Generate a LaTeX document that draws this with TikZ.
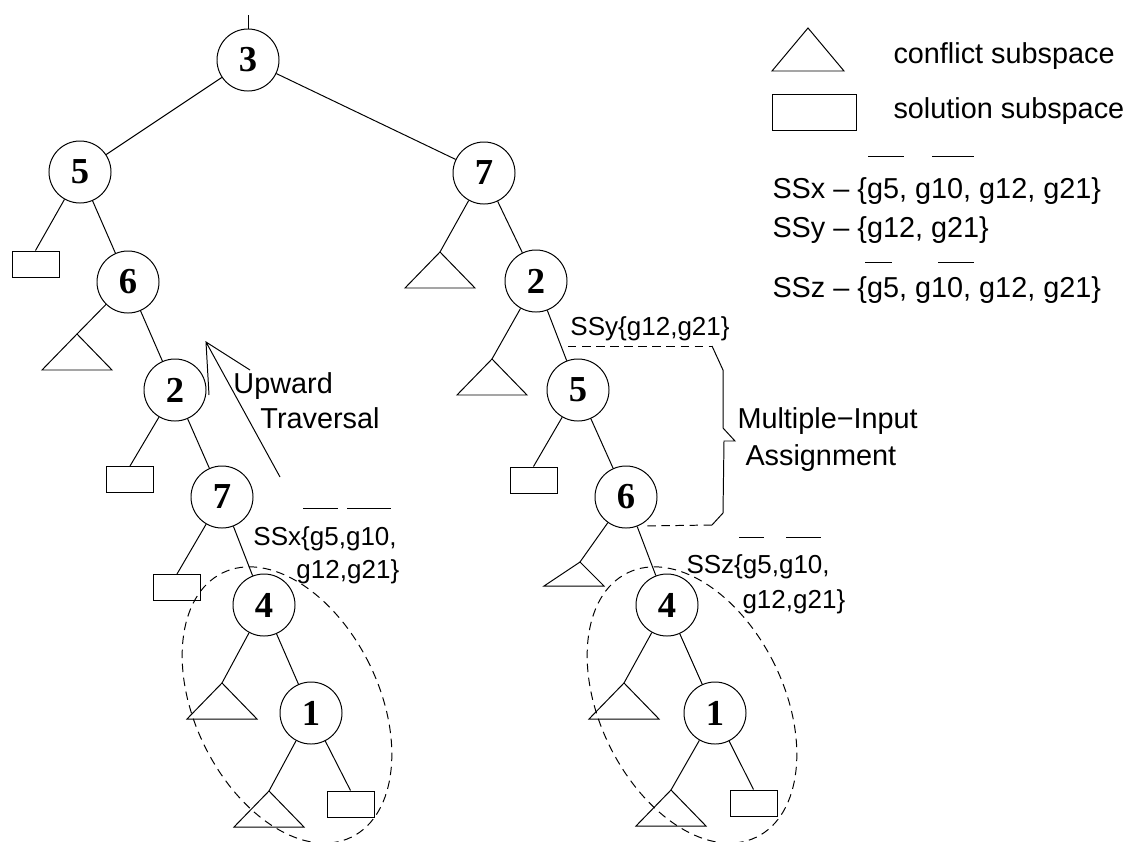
\documentclass[tikz,border=0pt]{standalone}
\usepackage{fontspec}
\setmainfont{Liberation Sans}
\newfontfamily\numfont{Liberation Serif}
\tikzset{
  tnode/.style={draw, circle, minimum size=1.55cm, inner sep=0pt,
    font=\numfont\bfseries\fontsize{26}{26}\selectfont},
  sol/.style={draw, rectangle, minimum width=1.175cm, minimum height=0.65cm, inner sep=0pt},
  lbl/.style={anchor=base west, inner sep=0pt, font=\fontsize{20.5}{24}\selectfont},
  sslbl/.style={anchor=base west, inner sep=0pt, font=\fontsize{18.5}{22}\selectfont},
  cut/.style={dash pattern=on 6pt off 4pt}
}
\begin{document}
\begin{tikzpicture}[x=0.025cm, y=0.025cm, line width=0.7pt]
            \useasboundingbox (0,0) rectangle (1125,-842);
            % tree nodes
            \node[tnode] (n3) at (248,-60) {3};
            \node[tnode] (l5) at (80,-172) {5};
            \node[tnode] (l6) at (128,-282) {6};
            \node[tnode] (l2) at (175,-390) {2};
            \node[tnode] (l7) at (222,-497) {7};
            \node[tnode] (l4) at (264,-605) {4};
            \node[tnode] (l1) at (311,-713) {1};
            \node[tnode] (r7) at (484,-173) {7};
            \node[tnode] (r2) at (536,-281) {2};
            \node[tnode] (r5) at (578,-390) {5};
            \node[tnode] (r6) at (626,-497) {6};
            \node[tnode] (r4) at (667,-605) {4};
            \node[tnode] (r1) at (715,-713) {1};
            % solution subspaces
            \node[sol] (s1) at (35.5,-264) {};
            \node[sol] (s2) at (130,-479.5) {};
            \node[sol] (s3) at (177,-587.5) {};
            \node[sol] (s4) at (350.5,-804) {};
            \node[sol] (s5) at (533.5,-480) {};
            \node[sol] (s6) at (753.5,-803) {};
            % conflict subspaces
            \foreach \t/\x/\y in {t1/77/334, t2/222/683, t3/269/791, t4/440/252,
                                  t5/492/359, t7/624/683, t8/671/790}
              \draw (\x,-\y) coordinate (\t) -- ++(-35,-36) -- ++(70,0) -- cycle;
            \draw (580,-562) coordinate (t6) -- ++(-36,-24) -- ++(60,0) -- cycle;
            \draw (248,-15) -- (n3);
            \draw (n3) -- (l5) (n3) -- (r7);
            \draw (l5) -- (s1.north) (l5) -- (l6) (l6) -- (t1) (l6) -- (l2)
                  (l2) -- (s2.north) (l2) -- (l7) (l7) -- (s3.north) (l7) -- (l4)
                  (l4) -- (t2) (l4) -- (l1) (l1) -- (t3) (l1) -- (s4.north);
            \draw (r7) -- (t4) (r7) -- (r2) (r2) -- (t5) (r2) -- (r5)
                  (r5) -- (s5.north) (r5) -- (r6) (r6) -- (t6) (r6) -- (r4)
                  (r4) -- (t7) (r4) -- (r1) (r1) -- (t8) (r1) -- (s6.north);
            % regions
            \draw[cut, rotate around={26:(287,-705)}] (287,-705) ellipse [x radius=92, y radius=147];
            \draw[cut, rotate around={26:(692,-705)}] (692,-705) ellipse [x radius=92, y radius=147];
            % upward traversal
            \coordinate (up) at (206,-342);
            \draw (209,-395) -- (up) -- (250,-370) (up) -- (280,-477);
            \node[lbl] (upw) at (233,-393) {Upward};
            \node[lbl] (trav) at (260,-428) {Traversal};
            % multiple-input assignment
            \draw[cut] (568,-346) -- (712,-346);
            \draw (712,-346) -- (723,-370) -- (723,-428) -- (735,-441) -- (724,-441)
                  -- (723,-513) -- (712,-525);
            \draw[cut] (712,-525) -- (643,-526);
            \node[lbl] (mult) at (737,-428) {Multiple−Input};
            \node[lbl] (assg) at (745,-465) {Assignment};
            % subspace labels
            \node[sslbl] (ssx1) at (253,-545) {SSx\{g5,g10,};
            \node[sslbl] (ssx2) at (296,-578) {g12,g21\}};
            \draw (303,-508) -- (338,-508) (347,-508) -- (391,-508);
            \node[sslbl] (ssy) at (570,-335) {SSy\{g12,g21\}};
            \node[sslbl] (ssz1) at (686,-573) {SSz\{g5,g10,};
            \node[sslbl] (ssz2) at (742,-608) {g12,g21\}};
            \draw (739,-537) -- (764,-537) (786,-537) -- (821,-537);
            % legend
            \draw (808,-28) -- (772,-71) -- (844,-71) -- cycle;
            \node[draw, minimum width=2.1cm, minimum height=0.9cm, inner sep=0pt] (lrect) at (814,-112) {};
            \node[lbl] (leg1) at (893,-63) {conflict subspace};
            \node[lbl] (leg2) at (893,-118) {solution subspace};
            \node[lbl] (leg3) at (772,-198) {SSx -- \{g5, g10, g12, g21\}};
            \node[lbl] (leg4) at (772,-237) {SSy -- \{g12, g21\}};
            \node[lbl] (leg5) at (772,-297) {SSz -- \{g5, g10, g12, g21\}};
            \draw (868,-156) -- (904,-156) (932,-156) -- (974,-156);
            \draw (865,-262) -- (892,-262) (938,-262) -- (974,-262);
        \end{tikzpicture}
\end{document}
